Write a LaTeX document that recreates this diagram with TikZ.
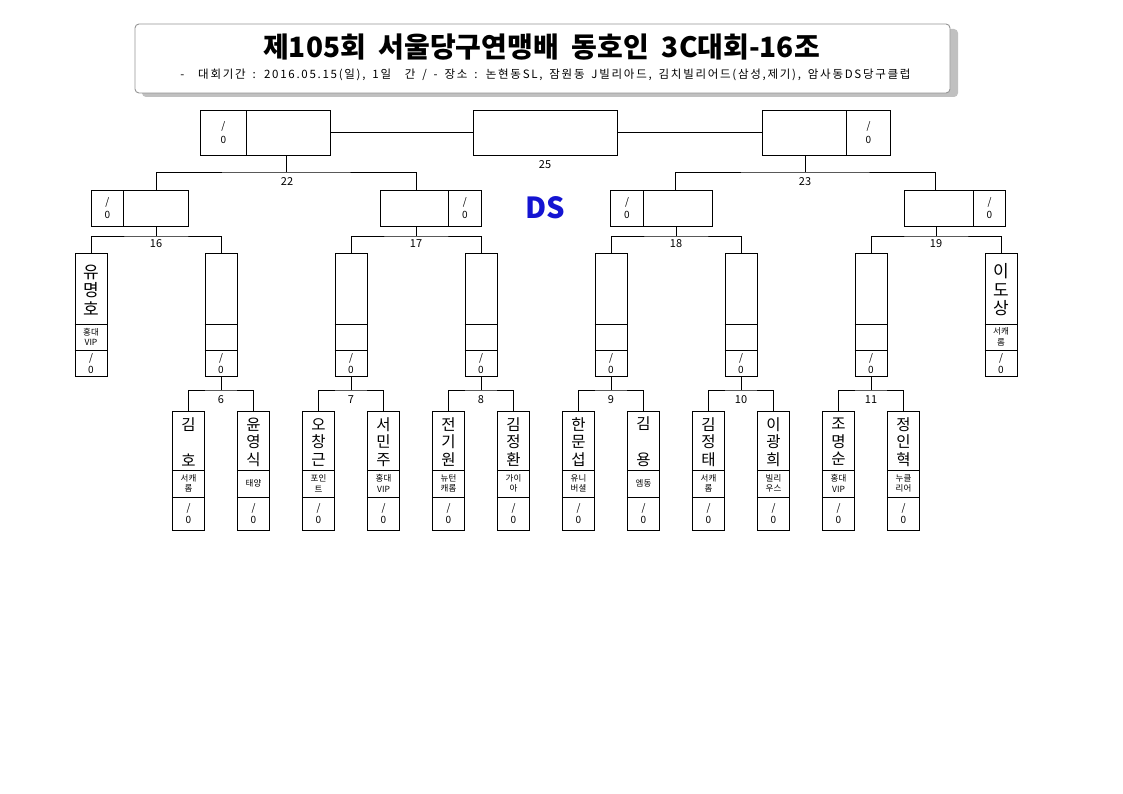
\documentclass[tikz,border=0pt]{standalone}
\usepackage{fontspec}
\setmainfont{Noto Sans CJK KR}
\newfontfamily\titlefont{Noto Sans CJK KR}
\newfontfamily\subfont[LetterSpace=15,WordSpace=1.6]{Noto Sans CJK KR}
\definecolor{dsblue}{RGB}{20,20,210}
\definecolor{shadowgray}{RGB}{192,192,192}
\definecolor{bordergray}{RGB}{150,150,150}
\newcommand\colbox[4]{%
  \node[box, minimum width=32, minimum height=123, anchor=north] (#1) at (#2,253) {};
  \draw[ln] (#1.west |- 0,324) -- (#1.east |- 0,324);
  \draw[ln] (#1.west |- 0,350) -- (#1.east |- 0,350);
  \node[bigname] (#1-n) at (#2,290) {#3};
  \node[club] (#1-c) at (#2,337) {#4};
  \node[score] (#1-s) at (#2,363.5) {/\\0};
}
\newcommand\botbox[4]{%
  \node[box, minimum width=32.5, minimum height=119, anchor=north] (#1) at (#2,411) {};
  \draw[ln] (#1.west |- 0,470) -- (#1.east |- 0,470);
  \draw[ln] (#1.west |- 0,497) -- (#1.east |- 0,497);
  \node[smallname] (#1-n) at (#2,442) {#3};
  \node[club] (#1-c) at (#2,483.5) {#4};
  \node[score] (#1-s) at (#2,513.5) {/\\0};
}
\begin{document}
\begin{tikzpicture}[x=1pt,y=-1pt,
  ln/.style={line width=0.9pt},
  box/.style={draw, line width=0.9pt, inner sep=0pt, fill=white},
  bigname/.style={inner sep=0pt, align=center, font=\fontsize{17}{18.5}\selectfont},
  smallname/.style={inner sep=0pt, align=center, font=\fontsize{15.5}{17.5}\selectfont},
  club/.style={inner sep=0pt, align=center, font=\fontsize{8.5}{10.5}\selectfont},
  score/.style={inner sep=0pt, align=center, font=\fontsize{10}{11.5}\selectfont},
  num/.style={inner sep=0pt, font=\fontsize{11}{12}\selectfont},
]
\useasboundingbox (0,0) rectangle (1123,794);
\fill[white] (0,0) rectangle (1123,794);

% title box
\fill[shadowgray, rounded corners=4pt] (142,29) rectangle (958,97);
\draw[bordergray, fill=white, line width=0.9pt, rounded corners=4pt] (135,24) rectangle (950,93);
\node[inner sep=0pt, font=\titlefont\bfseries\fontsize{28}{30}\selectfont] (title) at (541.5,47) {제105회~~서울당구연맹배~~동호인~~3C대회-16조};
\node[inner sep=0pt, font=\subfont\fontsize{11.5}{12}\selectfont] (sub) at (545.5,75) {-~~대회기간 : 2016.05.15(일), 1일~~간 / - 장소 : 논현동SL, 잠원동 J빌리아드, 김치빌리어드(삼성,제기), 암사동DS당구클럽};

% final row
\node[box, minimum width=46, minimum height=45, anchor=north west] (F1s) at (200,110) {};
\node[box, minimum width=84, minimum height=45, anchor=north west] (F1n) at (246,110) {};
\node[score, align=center, font=\fontsize{10}{14}\selectfont] (F1t) at (F1s.center) {/\\0};
\node[box, minimum width=144, minimum height=45, anchor=north west] (C) at (473,110) {};
\node[box, minimum width=84, minimum height=45, anchor=north west] (F2n) at (762,110) {};
\node[box, minimum width=44, minimum height=45, anchor=north west] (F2s) at (846,110) {};
\node[score, align=center, font=\fontsize{10}{14}\selectfont] (F2t) at (F2s.center) {/\\0};
\draw[ln] (F1n.east) -- (C.west);
\draw[ln] (C.east) -- (F2n.west);
\node[num] (l25) at (545,165) {25};

% semi row
\node[box, minimum width=32, minimum height=36, anchor=north west] (S16s) at (91,190) {};
\node[box, minimum width=65, minimum height=36, anchor=north west] (S16n) at (123,190) {};
\node[score, font=\fontsize{10}{13}\selectfont] (S16t) at (S16s.center) {/\\0};
\node[box, minimum width=68, minimum height=36, anchor=north west] (S17n) at (380,190) {};
\node[box, minimum width=33, minimum height=36, anchor=north west] (S17s) at (448,190) {};
\node[score, font=\fontsize{10}{13}\selectfont] (S17t) at (S17s.center) {/\\0};
\node[box, minimum width=33, minimum height=36, anchor=north west] (S18s) at (610,190) {};
\node[box, minimum width=69, minimum height=36, anchor=north west] (S18n) at (643,190) {};
\node[score, font=\fontsize{10}{13}\selectfont] (S18t) at (S18s.center) {/\\0};
\node[box, minimum width=69, minimum height=36, anchor=north west] (S19n) at (904,190) {};
\node[box, minimum width=32, minimum height=36, anchor=north west] (S19s) at (973,190) {};
\node[score, font=\fontsize{10}{13}\selectfont] (S19t) at (S19s.center) {/\\0};

\node[inner sep=0pt, text=dsblue, font=\bfseries\fontsize{29}{30}\selectfont] (DS) at (545,208) {DS};

% junctions of final
\coordinate (j22) at (286,172);
\coordinate (j23) at (805,172);
\draw[ln] (S16n.north -| 156,0) |- (j22) -| (S17n.north -| 416,0);
\draw[ln] (j22) -- (F1n.south -| j22);
\node[num] (l22) at (287,182) {22};
\draw[ln] (S18n.north -| 675,0) |- (j23) -| (S19n.north -| 935,0);
\draw[ln] (j23) -- (F2n.south -| j23);
\node[num] (l23) at (805,182) {23};

% column boxes
\colbox{c1}{91}{유\\명\\호}{홍대\\VIP}
\colbox{c2}{221}{}{}
\colbox{c3}{351}{}{}
\colbox{c4}{481}{}{}
\colbox{c5}{611}{}{}
\colbox{c6}{741}{}{}
\colbox{c7}{871}{}{}
\colbox{c8}{1001}{이\\도\\상}{서캐\\롬}

\coordinate (j16) at (156,236);
\coordinate (j17) at (416,236);
\coordinate (j18) at (676,236);
\coordinate (j19) at (936,236);
\draw[ln] (c1.north) |- (j16) -| (c2.north);
\draw[ln] (j16) -- (S16n.south -| j16);
\node[num] (l16) at (156,244) {16};
\draw[ln] (c3.north) |- (j17) -| (c4.north);
\draw[ln] (j17) -- (S17n.south -| j17);
\node[num] (l17) at (416,244) {17};
\draw[ln] (c5.north) |- (j18) -| (c6.north);
\draw[ln] (j18) -- (S18n.south -| j18);
\node[num] (l18) at (676,244) {18};
\draw[ln] (c7.north) |- (j19) -| (c8.north);
\draw[ln] (j19) -- (S19n.south -| j19);
\node[num] (l19) at (936,244) {19};

% bottom boxes
\botbox{b1}{188.5}{김\\\strut\\호}{서캐\\롬}
\botbox{b2}{253.5}{윤\\영\\식}{태양}
\botbox{b3}{318.5}{오\\창\\근}{포인\\트}
\botbox{b4}{383.5}{서\\민\\주}{홍대\\VIP}
\botbox{b5}{448.5}{전\\기\\원}{뉴턴\\캐롬}
\botbox{b6}{513.5}{김\\정\\환}{가이\\아}
\botbox{b7}{578.5}{한\\문\\섭}{유니\\버셜}
\botbox{b8}{643.5}{김\\\strut\\용}{엠동}
\botbox{b9}{708.5}{김\\정\\태}{서캐\\롬}
\botbox{b10}{773.5}{이\\광\\희}{빌리\\우스}
\botbox{b11}{838.5}{조\\명\\순}{홍대\\VIP}
\botbox{b12}{903.5}{정\\인\\혁}{누클\\리어}

\coordinate (j6) at (221,390);
\coordinate (j7) at (351,390);
\coordinate (j8) at (481,390);
\coordinate (j9) at (611,390);
\coordinate (j10) at (741,390);
\coordinate (j11) at (871,390);
\draw[ln] (b1.north) |- (j6) -| (b2.north);  \draw[ln] (j6) -- (c2.south);
\draw[ln] (b3.north) |- (j7) -| (b4.north);  \draw[ln] (j7) -- (c3.south);
\draw[ln] (b5.north) |- (j8) -| (b6.north);  \draw[ln] (j8) -- (c4.south);
\draw[ln] (b7.north) |- (j9) -| (b8.north);  \draw[ln] (j9) -- (c5.south);
\draw[ln] (b9.north) |- (j10) -| (b10.north); \draw[ln] (j10) -- (c6.south);
\draw[ln] (b11.north) |- (j11) -| (b12.north); \draw[ln] (j11) -- (c7.south);
\node[num] (l6) at (221,400) {6};
\node[num] (l7) at (351,400) {7};
\node[num] (l8) at (481,400) {8};
\node[num] (l9) at (611,400) {9};
\node[num] (l10) at (741,400) {10};
\node[num] (l11) at (871,400) {11};
\end{tikzpicture}
\end{document}
